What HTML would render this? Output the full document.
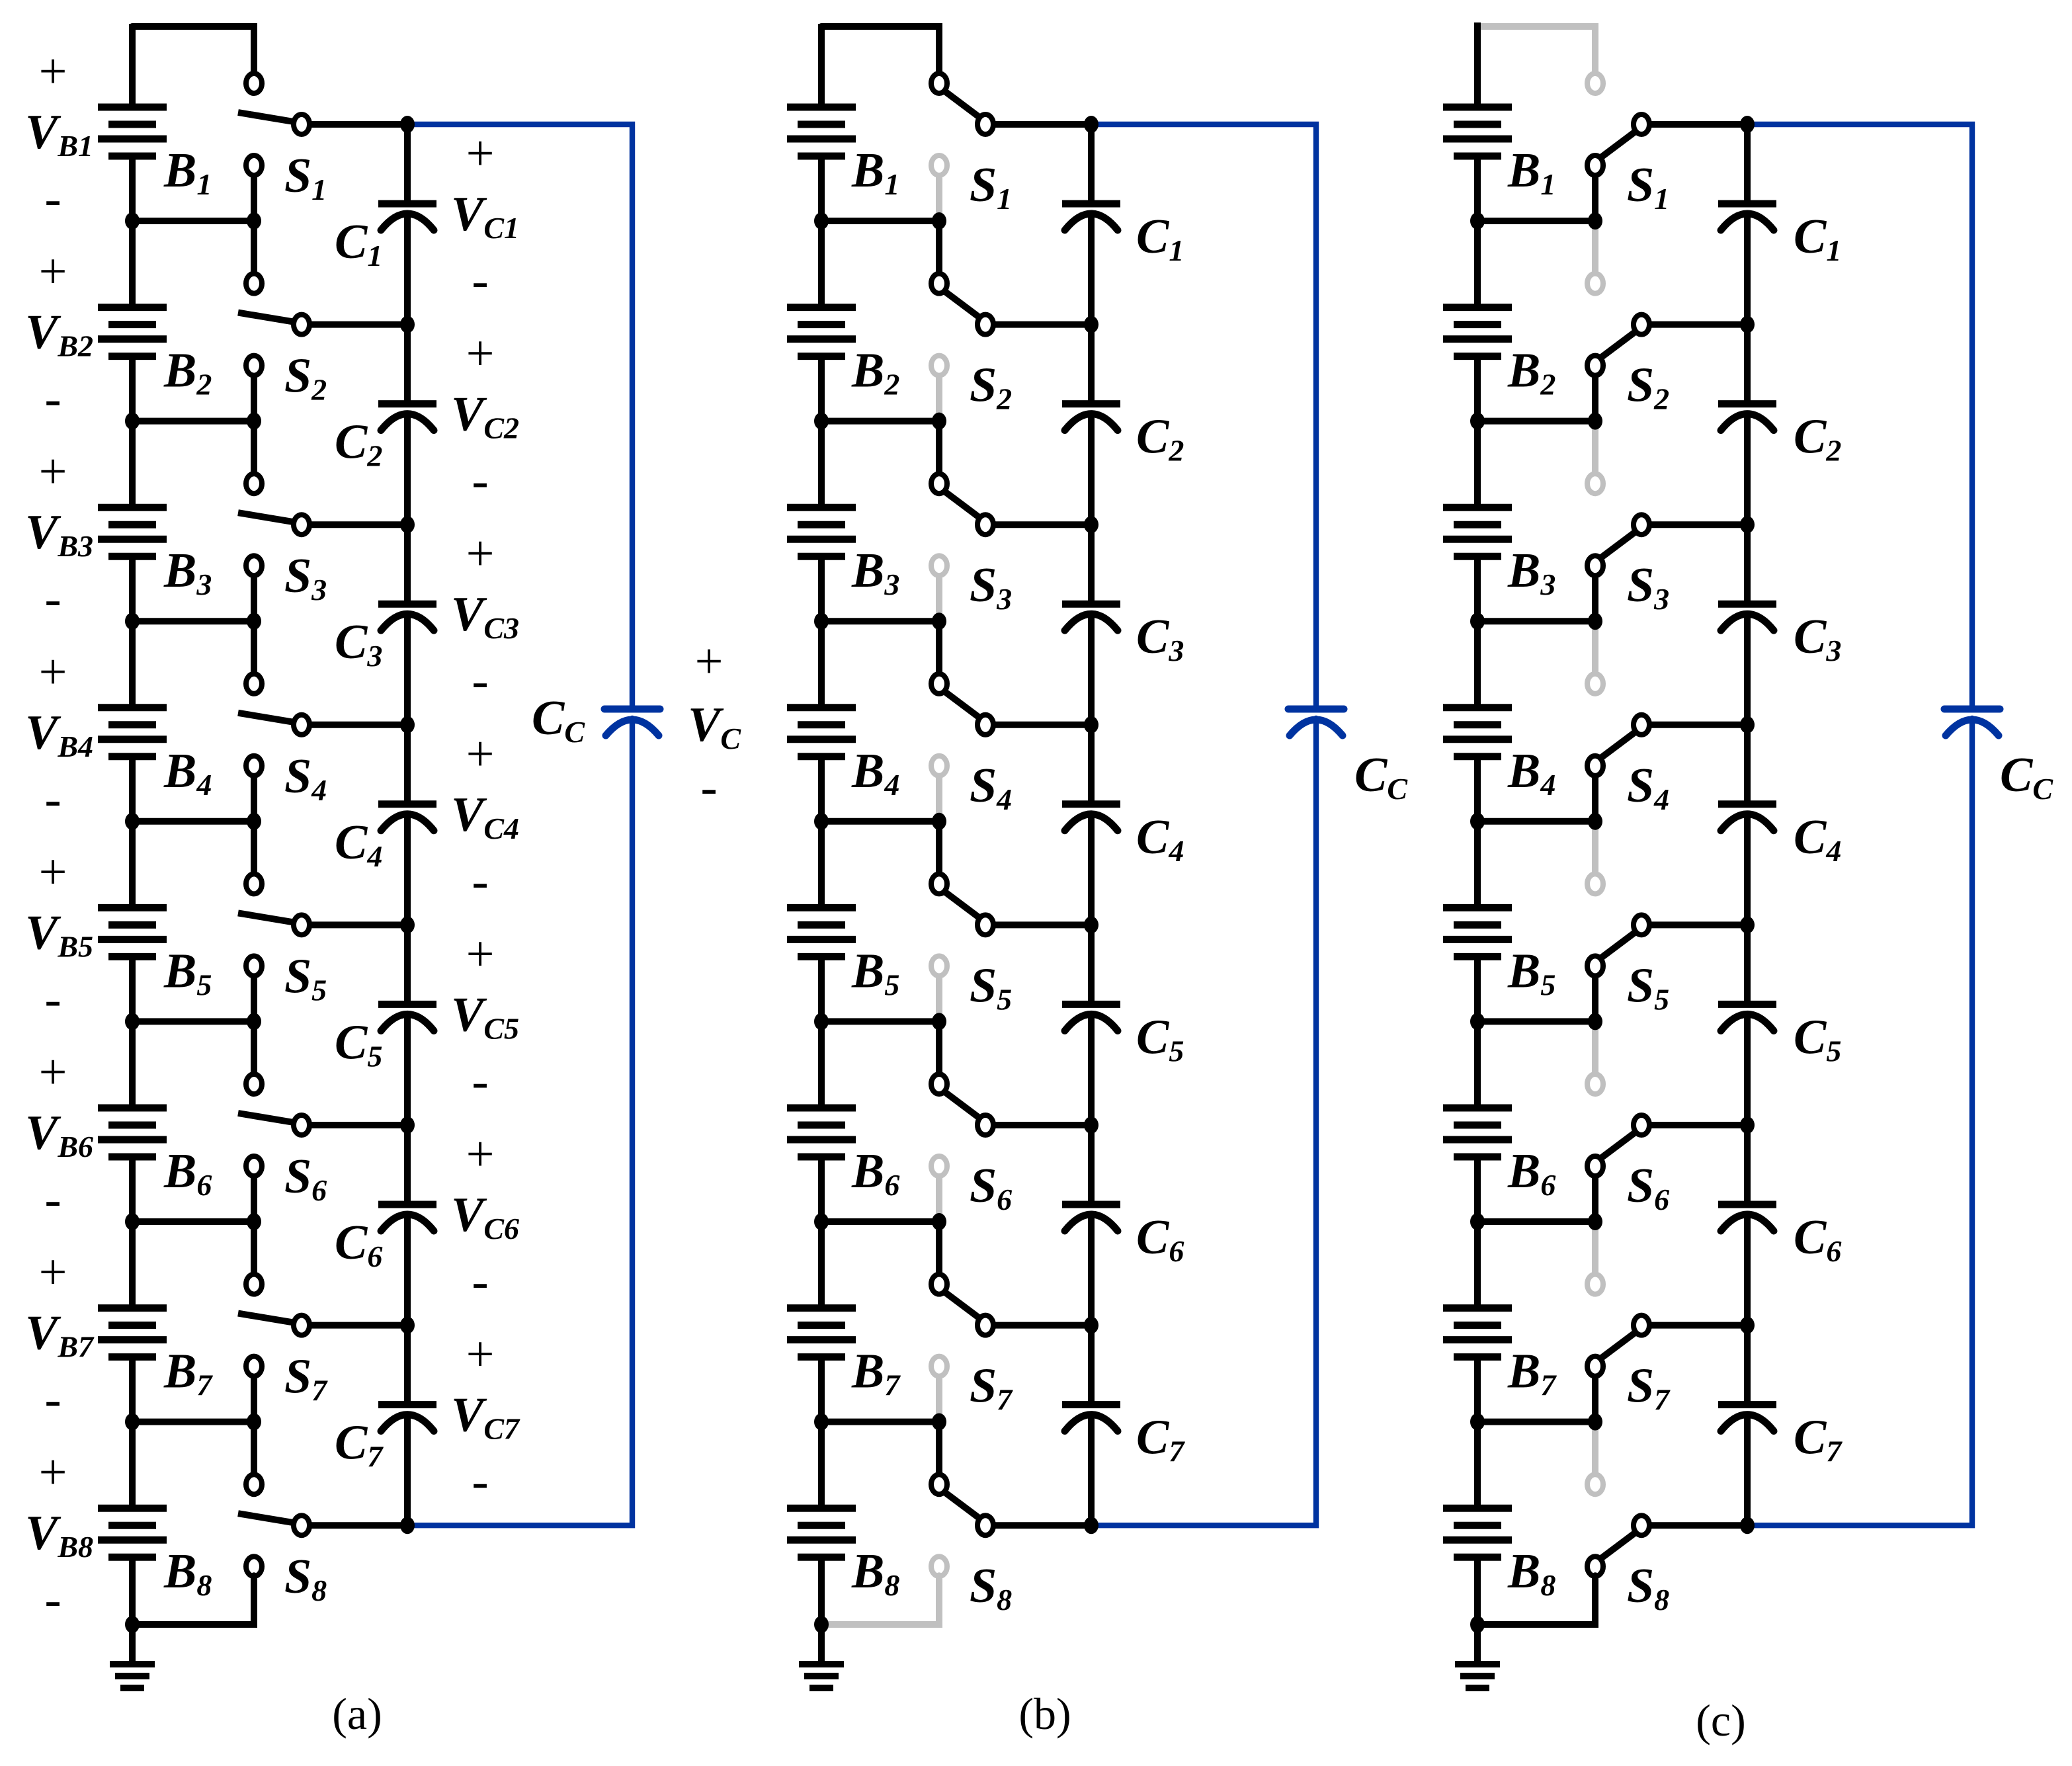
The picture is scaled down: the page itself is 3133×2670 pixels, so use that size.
<!DOCTYPE html>
<html><head><meta charset="utf-8"><style>
html,body{margin:0;padding:0;background:#fff}
svg{display:block}
text{font-family:"Liberation Serif",serif;fill:#000}
.m{font-style:italic;font-weight:bold;font-size:37px}
.s{font-size:23px}
.pm{font-size:38px;text-anchor:middle;dominant-baseline:central}
.cap{font-size:34px;text-anchor:middle}
</style></head><body>
<svg id="sv" xmlns="http://www.w3.org/2000/svg" width="3133" height="2670" viewBox="0 0 1566.5 1335">
<g id="shapes"></g>
<g id="txt">
<g transform="translate(0,0)"><text class="pm" x="40" y="54">+</text><text class="m" x="19" y="112">V<tspan class="s" dy="6">B1</tspan></text><text class="pm" x="40" y="150">-</text><text class="m" x="124" y="141">B<tspan class="s" dy="6">1</tspan></text><text class="m" x="215" y="145">S<tspan class="s" dy="6">1</tspan></text><text class="pm" x="363" y="116">+</text><text class="m" x="341" y="174">V<tspan class="s" dy="6">C1</tspan></text><text class="pm" x="363" y="212">-</text><text class="m" x="253" y="195">C<tspan class="s" dy="6">1</tspan></text></g>
<g transform="translate(0,151.3)"><text class="pm" x="40" y="54">+</text><text class="m" x="19" y="112">V<tspan class="s" dy="6">B2</tspan></text><text class="pm" x="40" y="150">-</text><text class="m" x="124" y="141">B<tspan class="s" dy="6">2</tspan></text><text class="m" x="215" y="145">S<tspan class="s" dy="6">2</tspan></text><text class="pm" x="363" y="116">+</text><text class="m" x="341" y="174">V<tspan class="s" dy="6">C2</tspan></text><text class="pm" x="363" y="212">-</text><text class="m" x="253" y="195">C<tspan class="s" dy="6">2</tspan></text></g>
<g transform="translate(0,302.6)"><text class="pm" x="40" y="54">+</text><text class="m" x="19" y="112">V<tspan class="s" dy="6">B3</tspan></text><text class="pm" x="40" y="150">-</text><text class="m" x="124" y="141">B<tspan class="s" dy="6">3</tspan></text><text class="m" x="215" y="145">S<tspan class="s" dy="6">3</tspan></text><text class="pm" x="363" y="116">+</text><text class="m" x="341" y="174">V<tspan class="s" dy="6">C3</tspan></text><text class="pm" x="363" y="212">-</text><text class="m" x="253" y="195">C<tspan class="s" dy="6">3</tspan></text></g>
<g transform="translate(0,453.9)"><text class="pm" x="40" y="54">+</text><text class="m" x="19" y="112">V<tspan class="s" dy="6">B4</tspan></text><text class="pm" x="40" y="150">-</text><text class="m" x="124" y="141">B<tspan class="s" dy="6">4</tspan></text><text class="m" x="215" y="145">S<tspan class="s" dy="6">4</tspan></text><text class="pm" x="363" y="116">+</text><text class="m" x="341" y="174">V<tspan class="s" dy="6">C4</tspan></text><text class="pm" x="363" y="212">-</text><text class="m" x="253" y="195">C<tspan class="s" dy="6">4</tspan></text></g>
<g transform="translate(0,605.2)"><text class="pm" x="40" y="54">+</text><text class="m" x="19" y="112">V<tspan class="s" dy="6">B5</tspan></text><text class="pm" x="40" y="150">-</text><text class="m" x="124" y="141">B<tspan class="s" dy="6">5</tspan></text><text class="m" x="215" y="145">S<tspan class="s" dy="6">5</tspan></text><text class="pm" x="363" y="116">+</text><text class="m" x="341" y="174">V<tspan class="s" dy="6">C5</tspan></text><text class="pm" x="363" y="212">-</text><text class="m" x="253" y="195">C<tspan class="s" dy="6">5</tspan></text></g>
<g transform="translate(0,756.5)"><text class="pm" x="40" y="54">+</text><text class="m" x="19" y="112">V<tspan class="s" dy="6">B6</tspan></text><text class="pm" x="40" y="150">-</text><text class="m" x="124" y="141">B<tspan class="s" dy="6">6</tspan></text><text class="m" x="215" y="145">S<tspan class="s" dy="6">6</tspan></text><text class="pm" x="363" y="116">+</text><text class="m" x="341" y="174">V<tspan class="s" dy="6">C6</tspan></text><text class="pm" x="363" y="212">-</text><text class="m" x="253" y="195">C<tspan class="s" dy="6">6</tspan></text></g>
<g transform="translate(0,907.8)"><text class="pm" x="40" y="54">+</text><text class="m" x="19" y="112">V<tspan class="s" dy="6">B7</tspan></text><text class="pm" x="40" y="150">-</text><text class="m" x="124" y="141">B<tspan class="s" dy="6">7</tspan></text><text class="m" x="215" y="145">S<tspan class="s" dy="6">7</tspan></text><text class="pm" x="363" y="116">+</text><text class="m" x="341" y="174">V<tspan class="s" dy="6">C7</tspan></text><text class="pm" x="363" y="212">-</text><text class="m" x="253" y="195">C<tspan class="s" dy="6">7</tspan></text></g>
<g transform="translate(0,1059.1)"><text class="pm" x="40" y="54">+</text><text class="m" x="19" y="112">V<tspan class="s" dy="6">B8</tspan></text><text class="pm" x="40" y="150">-</text><text class="m" x="124" y="141">B<tspan class="s" dy="6">8</tspan></text><text class="m" x="215" y="145">S<tspan class="s" dy="6">8</tspan></text></g>
<text class="m" x="402" y="555">C<tspan class="s" dy="6">C</tspan></text>
<text class="pm" x="536" y="500">+</text>
<text class="m" x="520" y="560">V<tspan class="s" dy="6">C</tspan></text>
<text class="pm" x="536" y="595">-</text>
<text class="cap" x="270" y="1307">(a)</text>
<g transform="translate(0,0)"><text class="m" x="644" y="141">B<tspan class="s" dy="6">1</tspan></text><text class="m" x="733" y="152">S<tspan class="s" dy="6">1</tspan></text><text class="m" x="859" y="191">C<tspan class="s" dy="6">1</tspan></text></g>
<g transform="translate(0,151.3)"><text class="m" x="644" y="141">B<tspan class="s" dy="6">2</tspan></text><text class="m" x="733" y="152">S<tspan class="s" dy="6">2</tspan></text><text class="m" x="859" y="191">C<tspan class="s" dy="6">2</tspan></text></g>
<g transform="translate(0,302.6)"><text class="m" x="644" y="141">B<tspan class="s" dy="6">3</tspan></text><text class="m" x="733" y="152">S<tspan class="s" dy="6">3</tspan></text><text class="m" x="859" y="191">C<tspan class="s" dy="6">3</tspan></text></g>
<g transform="translate(0,453.9)"><text class="m" x="644" y="141">B<tspan class="s" dy="6">4</tspan></text><text class="m" x="733" y="152">S<tspan class="s" dy="6">4</tspan></text><text class="m" x="859" y="191">C<tspan class="s" dy="6">4</tspan></text></g>
<g transform="translate(0,605.2)"><text class="m" x="644" y="141">B<tspan class="s" dy="6">5</tspan></text><text class="m" x="733" y="152">S<tspan class="s" dy="6">5</tspan></text><text class="m" x="859" y="191">C<tspan class="s" dy="6">5</tspan></text></g>
<g transform="translate(0,756.5)"><text class="m" x="644" y="141">B<tspan class="s" dy="6">6</tspan></text><text class="m" x="733" y="152">S<tspan class="s" dy="6">6</tspan></text><text class="m" x="859" y="191">C<tspan class="s" dy="6">6</tspan></text></g>
<g transform="translate(0,907.8)"><text class="m" x="644" y="141">B<tspan class="s" dy="6">7</tspan></text><text class="m" x="733" y="152">S<tspan class="s" dy="6">7</tspan></text><text class="m" x="859" y="191">C<tspan class="s" dy="6">7</tspan></text></g>
<g transform="translate(0,1059.1)"><text class="m" x="644" y="141">B<tspan class="s" dy="6">8</tspan></text><text class="m" x="733" y="152">S<tspan class="s" dy="6">8</tspan></text></g>
<text class="m" x="1024" y="598">C<tspan class="s" dy="6">C</tspan></text>
<text class="cap" x="790" y="1307">(b)</text>
<g transform="translate(0,0)"><text class="m" x="1140" y="141">B<tspan class="s" dy="6">1</tspan></text><text class="m" x="1230" y="152">S<tspan class="s" dy="6">1</tspan></text><text class="m" x="1356" y="191">C<tspan class="s" dy="6">1</tspan></text></g>
<g transform="translate(0,151.3)"><text class="m" x="1140" y="141">B<tspan class="s" dy="6">2</tspan></text><text class="m" x="1230" y="152">S<tspan class="s" dy="6">2</tspan></text><text class="m" x="1356" y="191">C<tspan class="s" dy="6">2</tspan></text></g>
<g transform="translate(0,302.6)"><text class="m" x="1140" y="141">B<tspan class="s" dy="6">3</tspan></text><text class="m" x="1230" y="152">S<tspan class="s" dy="6">3</tspan></text><text class="m" x="1356" y="191">C<tspan class="s" dy="6">3</tspan></text></g>
<g transform="translate(0,453.9)"><text class="m" x="1140" y="141">B<tspan class="s" dy="6">4</tspan></text><text class="m" x="1230" y="152">S<tspan class="s" dy="6">4</tspan></text><text class="m" x="1356" y="191">C<tspan class="s" dy="6">4</tspan></text></g>
<g transform="translate(0,605.2)"><text class="m" x="1140" y="141">B<tspan class="s" dy="6">5</tspan></text><text class="m" x="1230" y="152">S<tspan class="s" dy="6">5</tspan></text><text class="m" x="1356" y="191">C<tspan class="s" dy="6">5</tspan></text></g>
<g transform="translate(0,756.5)"><text class="m" x="1140" y="141">B<tspan class="s" dy="6">6</tspan></text><text class="m" x="1230" y="152">S<tspan class="s" dy="6">6</tspan></text><text class="m" x="1356" y="191">C<tspan class="s" dy="6">6</tspan></text></g>
<g transform="translate(0,907.8)"><text class="m" x="1140" y="141">B<tspan class="s" dy="6">7</tspan></text><text class="m" x="1230" y="152">S<tspan class="s" dy="6">7</tspan></text><text class="m" x="1356" y="191">C<tspan class="s" dy="6">7</tspan></text></g>
<g transform="translate(0,1059.1)"><text class="m" x="1140" y="141">B<tspan class="s" dy="6">8</tspan></text><text class="m" x="1230" y="152">S<tspan class="s" dy="6">8</tspan></text></g>
<text class="m" x="1512" y="598">C<tspan class="s" dy="6">C</tspan></text>
<text class="cap" x="1301" y="1312">(c)</text>
</g>
</svg>
<script>
(function(){
var NS="http://www.w3.org/2000/svg",G=document.getElementById("shapes");
var K="#000",GR="#c0c0c0",BL="#0033a0",W=5;
var dots=[];
function el(t,a){var e=document.createElementNS(NS,t);for(var k in a)e.setAttribute(k,a[k]);G.appendChild(e);return e;}
function ln(x1,y1,x2,y2,c,w){el("line",{x1:x1,y1:y1,x2:x2,y2:y2,stroke:c||K,"stroke-width":w||W,"stroke-linecap":"butt"});}
function dot(x,y){dots.push([x,y]);}
function ring(x,y,c){el("ellipse",{cx:x,cy:y,rx:6,ry:7.5,fill:"#fff",stroke:c,"stroke-width":4});}
function pth(d,c,w){el("path",{d:d,stroke:c,"stroke-width":w||W,fill:"none","stroke-linecap":"round"});}
var Y=[];for(var i=0;i<8;i++)Y.push(94+i*151.3);
function panel(bx,sx,px,cx,blx,mode){
  var i,y;
  ln(bx,18,bx,Y[0]-13);
  for(i=0;i<8;i++){y=Y[i];
    ln(bx-26,y-13,bx+26,y-13,K,5.5);ln(bx-18,y,bx+18,y,K,5.5);
    ln(bx-26,y+11,bx+26,y+11,K,5.5);ln(bx-18,y+24,bx+18,y+24,K,5.5);
    var yb=(i<7)?Y[i+1]-13:1258;ln(bx,y+24,bx,yb);
  }
  ln(bx-17,1258,bx+17,1258,K,5);ln(bx-13,1267,bx+13,1267,K,5);ln(bx-9,1276,bx+9,1276,K,5);
  var topc=(mode=="c")?GR:K;
  pth("M"+bx+",20 H"+sx+" V"+(Y[0]-38),topc);
  if(mode=="c"){ln(bx,17,bx,24);}
  for(i=0;i<8;i++){y=Y[i];
    var upc=(mode=="c")?GR:K, loc=(mode=="b")?GR:K;
    if(i>0)ln(sx,Y[i-1]+73,sx,y-31,upc);
    var ly=(i<7)?y+73:1228;ln(sx,y+31,sx,ly,loc);
    if(i<7){ln(bx,y+73,sx,y+73);dot(bx,y+73);dot(sx,y+73);}
    if(mode=="a")ln(px-6,y-2,sx-12,y-9);
    if(mode=="b")ln(sx+3,y-26,px-4,y-5);
    if(mode=="c")ln(sx+3,y+26,px-4,y+5);
    ring(sx,y-31,upc);ring(sx,y+31,loc);ring(px,y,K);
    ln(px+6,y,cx,y);
    if(i<7){ln(cx,y,cx,y+60);ln(cx-22,y+60,cx+22,y+60,K,5.5);
      pth("M"+(cx-20)+","+(y+80)+" Q"+cx+","+(y+55)+" "+(cx+20)+","+(y+80),K,5.5);
      ln(cx,y+67,cx,Y[i+1]);}
    dot(cx,y);
  }
  var bc=(mode=="b")?GR:K;
  pth("M"+bx+",1228 H"+sx+" V"+(Y[7]+38),bc);
  dot(bx,1228);
  pth("M"+(cx+5)+","+Y[0]+" H"+blx+" V536",BL,4.2);
  pth("M"+blx+",543 V"+Y[7]+" H"+(cx+5),BL,4.2);
  el("line",{x1:blx-21,y1:536,x2:blx+21,y2:536,stroke:BL,"stroke-width":5.5,"stroke-linecap":"round"});
  pth("M"+(blx-20)+",556 Q"+blx+",532 "+(blx+20)+",556",BL,5.5);
}
panel(100,192,228,308,478,"a");
panel(621,710,745,825,995,"b");
panel(1117,1206,1241,1321,1491,"c");
dots.forEach(function(d){el("ellipse",{cx:d[0],cy:d[1],rx:5.5,ry:6.5,fill:K});});
})();
</script>
</body></html>
